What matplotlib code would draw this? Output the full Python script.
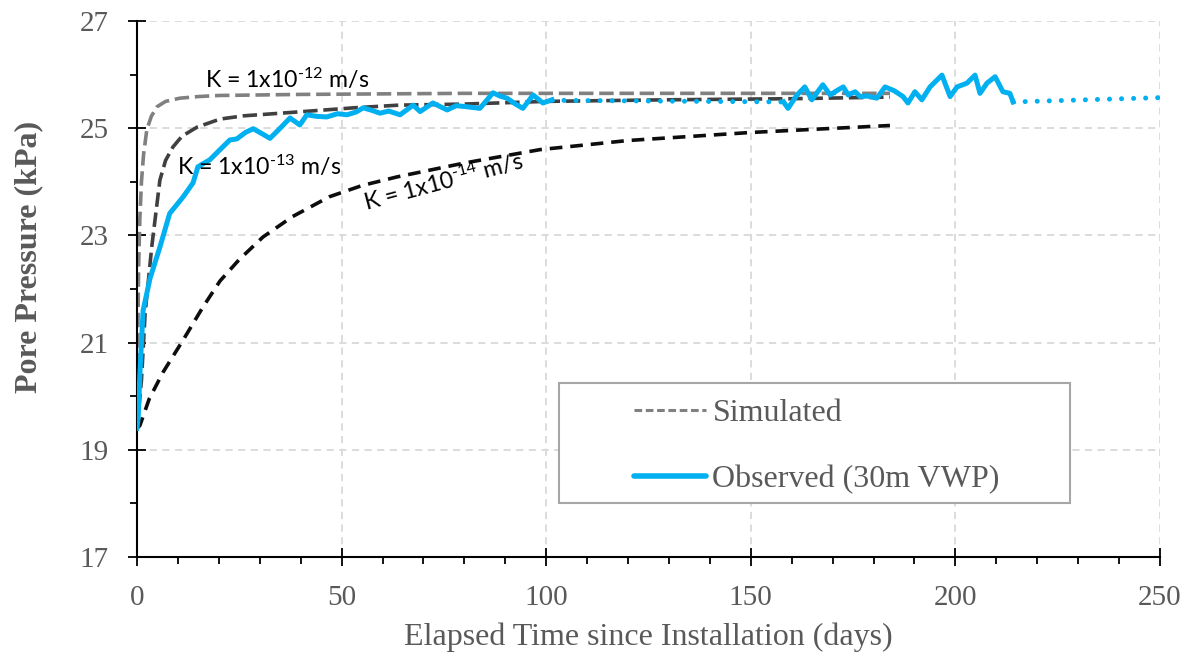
import numpy as np
import matplotlib
matplotlib.use('Agg')
import matplotlib.pyplot as plt
from matplotlib.lines import Line2D
from matplotlib.patches import Rectangle

plt.rcParams['mathtext.fontset'] = 'custom'
plt.rcParams['mathtext.rm'] = 'Lato'
plt.rcParams['mathtext.it'] = 'Lato:italic'

# simulated curves (days, kPa)
k12_days = [0, 0.2, 0.4, 0.7, 1.1, 1.6, 2.4, 3.5, 4.9, 7, 10.5, 15, 20, 40, 80, 120, 160, 184]
k12_vals = [19.4, 21.0, 22.4, 23.3, 24.0, 24.5, 24.97, 25.22, 25.4, 25.5, 25.56, 25.59, 25.61, 25.63, 25.65, 25.65, 25.65, 25.65]

k13_days = [0, 0.5, 1.1, 2, 3.6, 5.6, 7, 8.8, 11, 14.7, 20.3, 26, 37, 53, 64, 80, 100, 130, 160, 184]
k13_vals = [19.4, 19.8, 20.3, 21.55, 22.78, 24.03, 24.4, 24.65, 24.85, 25.02, 25.17, 25.23, 25.29, 25.38, 25.43, 25.45, 25.5, 25.53, 25.55, 25.58]

k14_days = [0, 0.7, 3, 6.4, 11.3, 16.1, 20.3, 25, 30.8, 38, 47, 55, 63.5, 80, 98.5, 120, 150, 184]
k14_vals = [19.4, 19.45, 19.95, 20.45, 21.05, 21.66, 22.15, 22.55, 22.97, 23.35, 23.72, 23.93, 24.09, 24.35, 24.6, 24.77, 24.92, 25.05]

# observed VWP record
obs1_days = [0, 0.3, 0.7, 1.5, 3.2, 5.6, 8, 9.5, 11.3, 13.7, 14.9, 17.8, 20.3, 22.7, 24.4, 26.5, 28.4, 30.5,
             32.5, 35, 37.4, 39.8, 41.5, 44, 46.4, 49, 51.3, 53.5, 55.3, 57.5, 59.4, 61.5, 64.3, 67.5,
             69.2, 72.3, 75.8, 78, 80.6, 83.8, 87, 88.7, 90.4, 92.5, 94.3, 96.8, 99.2, 101.4]
obs1_vals = [19.4, 19.6, 20.4, 21.6, 22.2, 22.78, 23.41, 23.55, 23.72, 23.98, 24.28, 24.41, 24.6, 24.78, 24.8, 24.92,
             24.99, 24.9, 24.81, 25.0, 25.19, 25.06, 25.25, 25.22, 25.21, 25.27, 25.25, 25.3, 25.38, 25.33,
             25.28, 25.32, 25.25, 25.43, 25.31, 25.47, 25.34, 25.42, 25.4, 25.37, 25.66, 25.6, 25.56, 25.45,
             25.37, 25.62, 25.47, 25.53]
gap1_days = [101.4, 158]
gap1_vals = [25.52, 25.49]
obs2_days = [158, 159.1, 161.3, 163.2, 164.9, 167.6, 169.4, 171, 172.6, 173.8, 175.5, 176.7, 178.5, 180.8,
             182.8, 185, 187.2, 188.4, 190.1, 191.8, 193.8, 196.7, 198.7, 200.4, 202.8, 204.8, 206, 207.7,
             209.7, 211.6, 213.3, 214.1]
obs2_vals = [25.49, 25.37, 25.62, 25.77, 25.53, 25.81, 25.62, 25.7, 25.77, 25.62, 25.68, 25.59, 25.6, 25.56,
             25.77, 25.7, 25.59, 25.47, 25.68, 25.53, 25.77, 25.99, 25.59, 25.77, 25.84, 25.99, 25.65, 25.84,
             25.96, 25.68, 25.65, 25.49]
gap2_days = [214.1, 250]
gap2_vals = [25.49, 25.57]

blue = '#00b0f0'
txt = '#595959'
serif = 'Liberation Serif'

fig = plt.figure(figsize=(11.91, 6.56), dpi=100)
ax = fig.add_axes([0.115, 0.151, 0.859, 0.817])

ax.plot(k12_days, k12_vals, color='#808080', lw=2.6, dashes=(4, 1.6), zorder=2)
ax.plot(k13_days, k13_vals, color='#404040', lw=2.6, dashes=(4, 1.6), zorder=2)
ax.plot(k14_days, k14_vals, color='#0d0d0d', lw=2.6, dashes=(3.5, 2.2), zorder=2)

ax.plot(obs1_days, obs1_vals, color=blue, lw=3.6, solid_joinstyle='round', zorder=4)
ax.plot(obs2_days, obs2_vals, color=blue, lw=3.6, solid_joinstyle='round', zorder=4)
for d, v in [(gap1_days, gap1_vals), (gap2_days, gap2_vals)]:
    ax.plot(d, v, color=blue, lw=3.6, linestyle=(0, (0.01, 2.4)), dash_capstyle='round', zorder=4)

ax.set_xlim(0, 250)
ax.set_ylim(17, 27)
ax.set_xticks(np.arange(0, 251, 50))
ax.set_xticks(np.arange(0, 251, 10), minor=True)
ax.set_yticks(np.arange(17, 28, 2))
ax.set_yticks(np.arange(18, 27, 2), minor=True)
ax.grid(True, which='major', color='#d9d9d9', linestyle=(0, (4, 3)), lw=1.3, zorder=0)
ax.set_axisbelow(True)

for s in ['top', 'right']:
    ax.spines[s].set_visible(False)
for s in ['left', 'bottom']:
    ax.spines[s].set_linewidth(1.5)

ax.tick_params(axis='both', which='major', direction='inout', length=13, width=1.3)
ax.tick_params(axis='both', which='minor', direction='out', length=5, width=1.3)
ax.tick_params(axis='x', which='major', pad=14)
ax.tick_params(axis='y', which='major', pad=14)
for lab in ax.get_xticklabels() + ax.get_yticklabels():
    lab.set_fontfamily(serif)
    lab.set_fontsize(21)
    lab.set_color(txt)

ax.set_xlabel('Elapsed Time since Installation (days)', fontfamily=serif, fontsize=23,
              color=txt, labelpad=8)
ax.set_ylabel('Pore Pressure (kPa)', fontfamily=serif, fontsize=23, fontweight='bold', color=txt)
ax.yaxis.set_label_coords(-0.092, 0.56)

ax.text(16.6, 25.75, r'K = 1x10$^{\text{-12}}$ m/s', fontfamily='Lato', fontsize=16.7, color='black')
ax.text(9.8, 24.13, r'K = 1x10$^{\text{-13}}$ m/s', fontfamily='Lato', fontsize=16.7, color='black', zorder=5)
ax.text(56, 23.45, r'K = 1x10$^{\text{-14}}$ m/s', fontfamily='Lato', fontsize=16.7, color='black',
        rotation=15, rotation_mode='anchor')

ax.add_patch(Rectangle((0.413, 0.1), 0.499, 0.224, transform=ax.transAxes, facecolor='white',
                       edgecolor='#a6a6a6', lw=1.5, zorder=6))
handles = [Line2D([], [], color='#808080', lw=2.2, dashes=(2.5, 1.2)),
           Line2D([], [], color=blue, lw=4, solid_capstyle='round')]
leg = ax.legend(handles, ['Simulated', 'Observed (30m VWP)'], loc='center left',
                bbox_to_anchor=(0.486, 0.206), frameon=False, borderpad=0, borderaxespad=0,
                handlelength=2.25, handletextpad=0.2, labelspacing=1.15,
                prop={'family': serif, 'size': 23})
leg.set_zorder(7)
for t in leg.get_texts():
    t.set_color(txt)

plt.savefig('out.png', dpi=100)
